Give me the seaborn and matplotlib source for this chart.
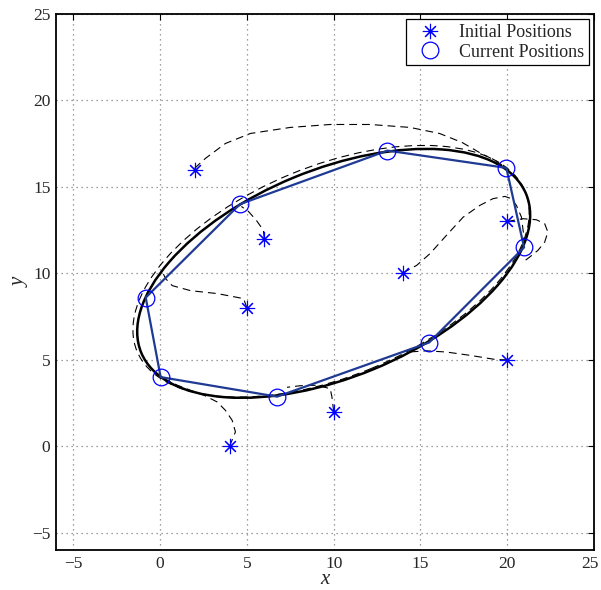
import matplotlib
matplotlib.use('Agg')
import matplotlib.pyplot as plt
import matplotlib.transforms as mtransforms
import seaborn as sns
import pandas as pd
from matplotlib.patches import Ellipse

# ---------------- data ----------------
init_x = [2, 6, 5, 4, 10, 14, 20, 20]
init_y = [16, 12, 8, 0, 2, 10, 13, 5]

curr_x = [4.6, 13.1, 19.95, 20.97, 15.5, 6.74, 0.03, -0.83]
curr_y = [14.0, 17.1, 16.1, 11.5, 6.0, 2.87, 4.0, 8.6]

# target ellipse: center, semi-axes, rotation (deg)
ell_center = (10.0, 10.0)
ell_a = 12.0
ell_b = 6.0
ell_angle = 22.5
# dashed companion (trajectories running along the ellipse)
dell_center = (9.85, 10.12)
dell_a = 12.1
dell_b = 6.08

# trajectories off the ellipse
traj1_x = [1.98, 2.61, 3.76, 5.2, 7.5, 9.8, 12.1, 14.4, 16.1, 17.4, 18.4, 19.3, 19.9]
traj1_y = [16.07, 16.65, 17.51, 18.09, 18.44, 18.61, 18.61, 18.44, 18.09, 17.57, 16.99, 16.53, 16.13]
traj2_x = [6.0, 5.95, 5.55, 5.09, 4.68]
traj2_y = [12.0, 12.49, 13.06, 13.58, 13.87]
traj3_x = [5.0, 4.81, 3.29, 1.75, 0.7, 0.32, 0.13]
traj3_y = [8.0, 8.54, 8.83, 9.0, 9.29, 9.69, 10.08]
traj4_x = [4.0, 4.34, 4.15, 3.76, 3.29, 2.53, 1.75, 0.99, 0.41, 0.03]
traj4_y = [0.0, 0.83, 1.5, 2.08, 2.56, 2.95, 3.24, 3.53, 3.82, 4.0]
traj5_x = [10.0, 9.9, 9.8, 9.03, 8.07, 7.31]
traj5_y = [2.0, 2.85, 3.33, 3.53, 3.5, 3.41]
traj6_x = [13.98, 14.78, 15.55, 16.5, 17.46, 18.42, 19.18, 19.86, 20.24, 20.53, 20.82, 20.95, 20.95]
traj6_y = [10.02, 10.46, 11.14, 12.2, 13.25, 13.93, 14.32, 14.45, 14.32, 13.93, 13.25, 12.2, 11.56]
traj7_x = [20.0, 20.91, 21.68, 22.16, 22.34, 22.16, 21.77, 21.29, 20.91]
traj7_y = [13.0, 13.16, 13.1, 12.87, 12.39, 11.81, 11.33, 10.94, 10.65]
traj8_x = [20.0, 19.37, 17.84, 16.5, 15.36, 14.3]
traj8_y = [5.0, 5.01, 5.26, 5.45, 5.52, 5.45]

ticks = [-5, 0, 5, 10, 15, 20, 25]
lims = (-6, 25)

# ---------------- style ----------------
sns.set_theme(style='white')
plt.rcParams['font.family'] = ['Liberation Serif', 'DejaVu Serif']
plt.rcParams['xtick.direction'] = 'in'
plt.rcParams['ytick.direction'] = 'in'

fig = plt.figure(figsize=(6.01, 5.90), dpi=100)
ax = fig.add_axes([56/601, 1-550/590, (594-56)/601, (550-14)/590])

navy = '#1f3a93'
blue = '#0000ff'
dash = (0, (7, 4.5))

# trajectories
trajs = [(traj1_x, traj1_y), (traj2_x, traj2_y), (traj3_x, traj3_y), (traj4_x, traj4_y),
         (traj5_x, traj5_y), (traj6_x, traj6_y), (traj7_x, traj7_y), (traj8_x, traj8_y)]
for tx, ty in trajs:
    sns.lineplot(x=tx, y=ty, sort=False, estimator=None, ax=ax, color='black',
                 lw=0.8, linestyle=dash)

ax.add_patch(Ellipse(dell_center, 2*dell_a, 2*dell_b, angle=ell_angle, fill=False,
                     ec='black', lw=0.8, linestyle=dash))
ax.add_patch(Ellipse(ell_center, 2*ell_a, 2*ell_b, angle=ell_angle, fill=False,
                     ec='black', lw=1.8))

# formation polygon
poly = pd.DataFrame({'x': curr_x + curr_x[:1], 'y': curr_y + curr_y[:1]})
sns.lineplot(data=poly, x='x', y='y', sort=False, estimator=None, ax=ax,
             color=navy, lw=1.6)

# markers
ax.plot(init_x, init_y, linestyle='none', marker=(8, 2, 0), markersize=11,
        mec=blue, mew=0.8, color=blue, label='Initial Positions')
ax.plot(curr_x, curr_y, linestyle='none', marker='o', markersize=12,
        mfc='none', mec=blue, mew=0.9, label='Current Positions')

ax.set_xlim(*lims)
ax.set_ylim(*lims)
ax.set_xticks(ticks)
ax.set_yticks(ticks)
ax.set_xticklabels(['\u22125' if t < 0 else str(t) for t in ticks], fontsize=12.5)
ax.set_yticklabels(['\u22125' if t < 0 else str(t) for t in ticks], fontsize=12.5)
ax.tick_params(top=True, right=True, length=4, width=0.8, color='black', pad=4)
ax.grid(True, linestyle=(0, (1, 3)), color='0.5', lw=0.9)
for s in ax.spines.values():
    s.set_color('black')
    s.set_linewidth(1.3)

# keep the last x tick label inside the canvas
last = ax.get_xticklabels()[-1]
last.set_transform(last.get_transform() +
                   mtransforms.ScaledTranslation(-4/100, 0, fig.dpi_scale_trans))

ax.set_xlabel('x', fontsize=15, style='italic', labelpad=-1)
ax.set_ylabel('y', fontsize=15, style='italic', labelpad=2)

leg = ax.legend(loc='upper right', fontsize=13, frameon=True, fancybox=False,
                framealpha=1, edgecolor='black', borderpad=0.25, handletextpad=0.5,
                labelspacing=0.15, handlelength=2.2, borderaxespad=0.3)
leg.get_frame().set_linewidth(0.9)

fig.savefig('out.png', dpi=100)
